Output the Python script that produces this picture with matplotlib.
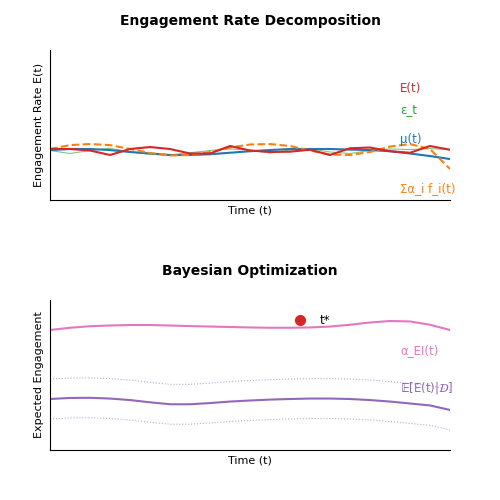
import numpy as np
import matplotlib.pyplot as plt

# time grid (0..10 in steps of 0.5)
t = [0, 0.5, 1, 1.5, 2, 2.5, 3, 3.5, 4, 4.5, 5, 5.5, 6, 6.5, 7, 7.5, 8, 8.5, 9, 9.5, 10]

# top panel series
mu = [0.333, 0.340, 0.340, 0.333, 0.320, 0.310, 0.300, 0.300, 0.305, 0.315, 0.325,
      0.333, 0.340, 0.340, 0.340, 0.336, 0.333, 0.325, 0.310, 0.293, 0.273]
E = [0.340, 0.340, 0.330, 0.300, 0.340, 0.353, 0.340, 0.310, 0.310, 0.360, 0.330,
     0.320, 0.322, 0.335, 0.300, 0.345, 0.350, 0.325, 0.315, 0.360, 0.335]
eps = [0.330, 0.310, 0.330, 0.345, 0.320, 0.305, 0.300, 0.315, 0.330, 0.340, 0.333,
       0.313, 0.333, 0.340, 0.320, 0.310, 0.330, 0.340, 0.336, 0.343, 0.335]
basis = [0.340, 0.366, 0.373, 0.366, 0.340, 0.313, 0.297, 0.300, 0.320, 0.350, 0.370,
         0.373, 0.360, 0.330, 0.303, 0.300, 0.320, 0.356, 0.373, 0.340, 0.207]

# bottom panel series
ei = [0.800, 0.815, 0.825, 0.830, 0.833, 0.833, 0.830, 0.826, 0.823, 0.820, 0.817,
      0.815, 0.815, 0.817, 0.823, 0.835, 0.850, 0.860, 0.857, 0.835, 0.800]
mean = [0.340, 0.347, 0.348, 0.343, 0.333, 0.318, 0.305, 0.305, 0.313, 0.323, 0.330,
        0.336, 0.340, 0.343, 0.343, 0.340, 0.333, 0.323, 0.310, 0.297, 0.267]
band = 0.133
t_star, ei_star = 6.25, 0.867

fig = plt.figure(figsize=(5, 5), dpi=100)

ax1 = fig.add_axes([0.10, 0.60, 0.80, 0.30])
ax1.plot(t, eps, color='tab:green', lw=0.8, alpha=0.6)
ax1.plot(t, mu, color='tab:blue', lw=1.5)
ax1.plot(t, basis, color='tab:orange', lw=1.5, ls='--')
ax1.plot(t, E, color='tab:red', lw=1.5)
ax1.set_xlim(0, 10)
ax1.set_ylim(0, 1)
ax1.set_title('Engagement Rate Decomposition', fontweight='bold', fontsize=10, pad=18)
ax1.set_xlabel('Time (t)', fontsize=8)
ax1.set_ylabel('Engagement Rate E(t)', fontsize=8)
ax1.text(8.75, 0.72, 'E(t)', color='tab:red', fontsize=8.5)
ax1.text(8.75, 0.58, 'ε_t', color='tab:green', fontsize=8.5)
ax1.text(8.75, 0.38, 'μ(t)', color='tab:blue', fontsize=8.5)
ax1.text(8.75, 0.05, 'Σα_i f_i(t)', color='tab:orange', fontsize=8.5)

ax2 = fig.add_axes([0.10, 0.10, 0.80, 0.30])
ax2.plot(t, ei, color='tab:pink', lw=1.5)
ax2.plot(t, mean, color='tab:purple', lw=1.5)
ax2.plot(t, [m + band for m in mean], color='tab:purple', lw=0.8, ls=':', alpha=0.6)
ax2.plot(t, [m - band for m in mean], color='tab:purple', lw=0.8, ls=':', alpha=0.6)
ax2.plot([t_star], [ei_star], 'o', color='tab:red', ms=7)
ax2.text(t_star + 0.5, ei_star - 0.03, 't*', fontsize=8.5)
ax2.set_xlim(0, 10)
ax2.set_ylim(0, 1)
ax2.set_title('Bayesian Optimization', fontweight='bold', fontsize=10, pad=18)
ax2.set_xlabel('Time (t)', fontsize=8)
ax2.set_ylabel('Expected Engagement', fontsize=8)
ax2.text(8.75, 0.64, 'α_EI(t)', color='tab:pink', fontsize=8.5)
ax2.text(8.75, 0.39, r'𝔼[E(t)|$\mathcal{D}$]', color='tab:purple', fontsize=8.5)

for ax in (ax1, ax2):
    ax.spines['right'].set_visible(False)
    ax.spines['top'].set_visible(False)
    ax.set_xticks([])
    ax.set_yticks([])

fig.savefig('out.png')
